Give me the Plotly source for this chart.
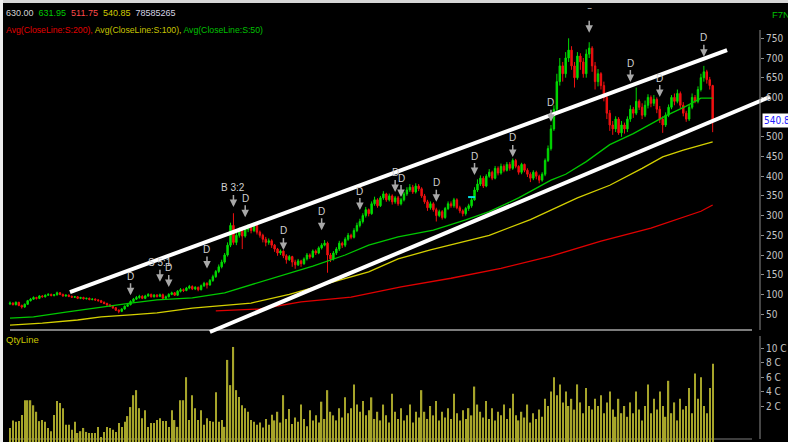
import plotly.graph_objects as go

# ---------------- data ----------------
CLOSE = [
    78, 74, 80, 72, 68, 75, 84, 88, 92, 90,
    96, 94, 98, 100, 97, 99, 104, 100, 96, 98,
    95, 93, 94, 90, 92, 89, 90, 87, 88, 86,
    84, 80, 77, 73, 70, 66, 60, 57, 63, 70,
    74, 82, 88, 92, 95, 90, 96, 100, 94, 98,
    95, 99, 90, 94, 100, 104, 98, 108, 112, 110,
    116, 120, 114, 118, 112, 122, 128, 124, 135, 145,
    158, 170, 182, 200, 225, 275, 232, 250, 262, 248,
    265, 270, 262, 275, 258, 250, 240, 232, 236, 225,
    215, 205, 210, 198, 188, 196, 182, 175, 185, 178,
    190, 200, 195, 210, 205, 218, 225, 230, 200, 190,
    205, 215, 230, 225, 240, 250, 245, 262, 275, 285,
    300, 315, 305, 330, 340, 325, 345, 355, 340, 350,
    335, 345, 330, 340, 355, 365, 372, 360, 375, 368,
    350, 335, 320, 330, 315, 300, 310, 295, 318, 330,
    325, 340, 320, 312, 305, 318, 325, 340, 365, 380,
    395, 375, 400, 410, 395, 420, 408, 425, 415, 430,
    420, 440, 425, 410, 430, 415, 405, 395, 410, 400,
    390, 405, 440, 470, 520, 570, 640, 680, 660, 700,
    720, 680, 650, 705, 690, 660, 710, 725, 680, 640,
    660, 630, 600, 560, 530, 520, 545, 510, 530, 520,
    545, 570, 560, 590, 575, 555, 580, 600, 585, 595,
    570, 545, 530, 555, 575, 600, 590, 610, 580, 560,
    545, 575, 600, 590, 620, 650, 665, 645, 630, 540.85,
]
OPEN = [
    76, 78, 74, 80, 72, 68, 75, 84, 88, 92,
    90, 96, 94, 98, 100, 97, 99, 104, 100, 96,
    98, 95, 93, 94, 90, 92, 89, 90, 87, 88,
    86, 84, 80, 77, 73, 70, 66, 60, 57, 63,
    70, 74, 82, 88, 92, 95, 90, 96, 100, 94,
    98, 95, 99, 90, 94, 100, 104, 98, 108, 112,
    110, 116, 120, 114, 118, 112, 122, 128, 124, 135,
    145, 158, 170, 182, 200, 225, 275, 232, 250, 262,
    248, 265, 270, 262, 275, 258, 250, 240, 232, 236,
    225, 215, 205, 210, 198, 188, 196, 182, 175, 185,
    178, 190, 200, 195, 210, 205, 218, 225, 230, 200,
    190, 205, 215, 230, 225, 240, 250, 245, 262, 275,
    285, 300, 315, 305, 330, 340, 325, 345, 355, 340,
    350, 335, 345, 330, 340, 355, 365, 372, 360, 375,
    368, 350, 335, 320, 330, 315, 300, 310, 295, 318,
    330, 325, 340, 320, 312, 305, 318, 325, 340, 365,
    380, 395, 375, 400, 410, 395, 420, 408, 425, 415,
    430, 420, 440, 425, 410, 430, 415, 405, 395, 410,
    400, 390, 405, 440, 470, 520, 570, 640, 680, 660,
    700, 720, 680, 650, 705, 690, 660, 710, 725, 680,
    640, 660, 630, 600, 560, 530, 520, 545, 510, 530,
    520, 545, 570, 560, 590, 575, 555, 580, 600, 585,
    595, 570, 545, 530, 555, 575, 600, 590, 610, 580,
    560, 545, 575, 600, 590, 620, 650, 665, 645, 630,
]
HIGH = [
    82, 80, 82, 81, 74, 77, 86, 91, 95, 94,
    98, 98, 100, 103, 102, 101, 107, 106, 102, 100,
    100, 97, 96, 96, 94, 94, 92, 92, 90, 90,
    88, 86, 82, 79, 76, 72, 68, 62, 65, 72,
    77, 85, 91, 96, 99, 98, 99, 103, 102, 101,
    101, 102, 102, 97, 103, 107, 106, 111, 116, 115,
    119, 124, 123, 121, 120, 125, 132, 131, 139, 150,
    162, 176, 188, 205, 232, 282, 306, 256, 270, 266,
    270, 278, 274, 282, 278, 262, 254, 246, 242, 240,
    228, 218, 214, 212, 202, 200, 198, 188, 190, 188,
    194, 205, 204, 214, 214, 222, 230, 238, 234, 205,
    210, 220, 236, 234, 245, 256, 254, 268, 282, 292,
    306, 322, 318, 336, 348, 344, 350, 362, 358, 356,
    354, 350, 350, 345, 360, 372, 380, 378, 382, 380,
    372, 355, 340, 336, 334, 320, 315, 314, 322, 336,
    336, 345, 344, 325, 316, 322, 330, 345, 372, 392,
    402, 400, 405, 418, 414, 426, 425, 432, 430, 436,
    436, 445, 444, 428, 434, 432, 420, 410, 415, 414,
    404, 410, 445, 478, 530, 580, 660, 700, 690, 715,
    750, 730, 690, 715, 712, 700, 722, 740, 730, 690,
    672, 664, 640, 608, 568, 540, 552, 550, 540, 536,
    552, 580, 576, 625, 595, 585, 592, 608, 605, 606,
    600, 578, 552, 562, 582, 606, 610, 620, 615, 588,
    566, 582, 610, 606, 628, 660, 680, 670, 652, 631.95,
]
LOW = [
    73, 72, 72, 70, 64, 66, 73, 82, 86, 87,
    88, 92, 92, 96, 95, 95, 97, 98, 94, 94,
    93, 91, 91, 88, 88, 87, 87, 85, 85, 84,
    82, 78, 75, 71, 68, 63, 58, 52, 55, 61,
    68, 72, 80, 86, 89, 88, 88, 94, 92, 92,
    92, 93, 88, 88, 92, 98, 96, 96, 105, 106,
    108, 113, 111, 111, 108, 110, 119, 115, 122, 132,
    142, 154, 166, 178, 196, 220, 226, 225, 244, 215,
    244, 258, 255, 258, 252, 244, 232, 222, 226, 218,
    208, 198, 200, 192, 178, 185, 170, 165, 172, 170,
    175, 186, 190, 192, 200, 202, 214, 222, 155, 182,
    186, 200, 210, 218, 220, 236, 240, 242, 258, 270,
    280, 295, 298, 302, 325, 320, 322, 340, 335, 336,
    328, 330, 325, 326, 336, 350, 360, 355, 356, 362,
    345, 330, 312, 315, 310, 285, 296, 290, 292, 314,
    320, 320, 316, 306, 298, 300, 312, 320, 338, 360,
    375, 370, 372, 396, 390, 392, 402, 404, 410, 412,
    414, 416, 420, 404, 405, 410, 398, 385, 390, 392,
    382, 386, 400, 436, 465, 515, 565, 630, 640, 650,
    690, 670, 625, 645, 670, 650, 650, 700, 665, 620,
    628, 620, 590, 545, 515, 505, 512, 505, 500, 508,
    512, 538, 548, 555, 568, 545, 550, 572, 575, 578,
    560, 535, 510, 525, 550, 570, 580, 585, 572, 552,
    538, 540, 570, 585, 585, 615, 640, 635, 620, 511.75,
]
# volume in crore, read on the lower panel's scale
VOLUME = [
    -1.05, 0.0, -0.2, -0.1, 0.75, 2.8, 2.8, 2.8, 2.1, 1.2,
    -0.1, 0.05, -0.2, -1.05, -1.5, 0.75, 2.7, 2.4, 1.7, -0.6,
    -0.6, -1.3, -0.2, -1.75, -1.5, -1.05, -1.6, -1.75, -1.75, -1.75,
    -0.9, -2.3, -1.6, -0.9, -1.05, -1.3, -1.6, -0.35, -0.9, -0.2,
    0.6, 1.85, 3.5, 4.2, 1.7, 0.3, 1.4, -0.9, -0.35, -0.35,
    0.05, 0.3, -0.1, -0.1, -0.9, 1.4, 0.05, -0.9, 2.8, 2.8,
    6.0, 0.05, 3.5, 1.7, 0.05, 1.4, -0.6, 0.3, -0.1, -0.2,
    3.9, -0.2, 0.05, -0.9, 8.4, 4.9, 10.2, 4.2, 3.25, 2.1,
    1.7, 1.2, 0.05, -0.2, -0.6, -0.3, -1.0, 0.2, -0.6, 0.8,
    0.0, 1.2, -0.3, 3.5, 0.2, 1.6, -0.5, 0.4, -0.2, 2.2,
    0.2, -0.8, 1.4, 0.0, 0.7, -0.3, 2.6, 0.2, 4.2, 1.2,
    0.7, 0.0, 1.7, 0.4, 3.2, 1.0, 1.7, 5.0, 2.2, 1.2,
    2.7, 0.7, 1.4, 3.2, 0.2, 1.2, 0.0, 2.2, 0.7, -0.3,
    3.7, 1.2, 0.2, 1.7, 0.0, 0.7, 2.2, -0.3, 1.2, 0.4,
    4.2, 1.2, 0.2, 2.0, 0.7, 2.7, 0.0, 1.2, 0.4, 1.7,
    0.2, 3.7, 1.0, 0.0, 1.4, 0.2, 1.7, 0.7, 4.7, 2.2,
    1.2, 0.4, 2.7, 0.2, 1.7, 0.0, 1.2, 0.7, 2.2, 0.2,
    1.7, 3.7, 0.7, 0.0, 1.2, 0.4, 2.2, -0.3, 1.0, 0.2,
    1.5, 0.5, 3.0, 2.0, 4.0, 6.0, 3.5, 5.0, 2.5, 4.0,
    2.0, 3.0, 1.5, 5.0, 2.5, 1.0, 4.5, 2.0, 1.5, 3.0,
    2.0, 3.5, 1.0, 2.5, 4.0, 1.5, 0.5, 3.0, 1.0, 2.0,
    0.5, 2.5, 1.0, 4.0, 1.5, 0.0, 2.0, 5.0, 1.0, 3.0,
    1.5, 4.0, 2.0, 0.5, 5.5, 1.0, 2.5, 0.0, 3.0, 1.5,
    2.0, 4.5, 1.0, 6.5, 3.0, 6.0, 2.0, 1.0, 4.5, 7.86,
]
BAR_INDEX = list(range(len(CLOSE)))

# moving averages (bar index, value)
MA50_X = [0, 8, 19, 31, 41, 50, 62, 73, 82, 91, 103, 114, 122, 132, 144, 155, 163, 173, 184, 189, 196, 204, 212, 223, 230, 235, 239]
MA50_Y = [40, 43, 55, 68, 78, 86, 91, 104, 124, 144, 172, 200, 225, 246, 263, 289, 310, 345, 390, 405, 437, 480, 508, 553, 578, 598, 598]
MA100_X = [0, 11, 23, 31, 41, 50, 62, 73, 82, 95, 109, 122, 132, 143, 163, 177, 193, 204, 215, 222, 229, 239]
MA100_Y = [22, 27, 35, 43, 48, 53, 65, 73, 78, 100, 129, 157, 190, 213, 250, 290, 345, 377, 420, 449, 466, 487]
MA200_X = [70, 85, 99, 116, 133, 150, 167, 184, 201, 218, 235, 239]
MA200_Y = [58, 63, 81, 93, 119, 141, 166, 197, 235, 268, 311, 327]

# hand-drawn channel lines (bar index, price)
TREND_UP_X = [20.4, 243.9]
TREND_UP_Y = [106, 720]
TREND_LO_X = [68.0, 258.5]
TREND_LO_Y = [4.6, 601.5]

# corporate-action / dividend markers
EVENT_TEXT = ["D", "S 5:1", "D", "D", "B 3:2", "D", "D", "D", "D", "D",
              "D", "D", "D", "D", "D", "\u203e", "D", "D", "D"]
EVENT_X = [41, 51, 54, 67, 76, 80, 93, 106, 119, 131, 133, 145, 158, 171, 184, 197, 211, 221, 236]
EVENT_Y = [98, 132, 119, 166, 322, 296, 213, 263, 314, 360, 347, 335, 403, 449, 538, 764, 639, 601, 703]

PRICE_TICKS = [50, 100, 150, 200, 250, 300, 350, 400, 450, 500, 600, 650, 700, 750]
VOL_TICKS = [2, 4, 6, 8, 10]
VOL_TICK_TEXT = ["2 C", "4 C", "6 C", "8 C", "10 C"]

HEADER_VALUES = ["630.00", "631.95", "511.75", "540.85", "78585265"]
HEADER_COLORS = ["#d4d4d4", "#00c800", "#ff4a4a", "#d0cc00", "#d4d4e4"]
MA_LABELS = ["Avg(CloseLine:S:200),", "Avg(CloseLine:S:100),", "Avg(CloseLine:S:50)"]
MA_COLORS = ["#e00000", "#c8c400", "#00c000"]
LAST_PRICE = 540.85

# ---------------- layout helpers ----------------
W, H = 788, 442
def px(x):
    return x / W
def py(y):
    return 1 - y / H

VOL_FLOOR = -3.0
FONT = "Liberation Sans"
AXIS_FONT = dict(family="DejaVu Sans Condensed", size=10, color="#c4c4c4")

fig = go.Figure()

fig.add_trace(go.Candlestick(
    x=BAR_INDEX, open=OPEN, high=HIGH, low=LOW, close=CLOSE,
    xaxis="x", yaxis="y", whiskerwidth=0,
    increasing=dict(line=dict(color="#00dc00", width=1), fillcolor="#00dc00"),
    decreasing=dict(line=dict(color="#f01010", width=1), fillcolor="#f01010"),
    hoverinfo="skip",
))
fig.add_trace(go.Scatter(x=MA200_X, y=MA200_Y, mode="lines", line=dict(color="#e00000", width=1.3),
                         xaxis="x", yaxis="y", hoverinfo="skip"))
fig.add_trace(go.Scatter(x=MA100_X, y=MA100_Y, mode="lines", line=dict(color="#d4d000", width=1.3),
                         xaxis="x", yaxis="y", hoverinfo="skip"))
fig.add_trace(go.Scatter(x=MA50_X, y=MA50_Y, mode="lines", line=dict(color="#00c800", width=1.3),
                         xaxis="x", yaxis="y", hoverinfo="skip"))
fig.add_trace(go.Scatter(x=TREND_UP_X, y=TREND_UP_Y, mode="lines", line=dict(color="#ffffff", width=4),
                         xaxis="x", yaxis="y", hoverinfo="skip"))
fig.add_trace(go.Scatter(x=TREND_LO_X, y=TREND_LO_Y, mode="lines", line=dict(color="#ffffff", width=4),
                         xaxis="x", yaxis="y", hoverinfo="skip"))
fig.add_trace(go.Scatter(x=[157], y=[347], mode="markers",
                         marker=dict(symbol="line-ew", size=5, line=dict(color="#00e0e0", width=2)),
                         xaxis="x", yaxis="y", hoverinfo="skip"))

fig.add_trace(go.Bar(
    x=BAR_INDEX, y=[v - VOL_FLOOR for v in VOLUME], base=VOL_FLOOR,
    xaxis="x2", yaxis="y2", width=0.45,
    marker=dict(color="#a6a42a", line=dict(width=0)), hoverinfo="skip",
))

x_dom = [px(8), px(780)]
axis_pos = px(760)
common_y = dict(side="right", anchor="free", position=axis_pos, showgrid=False, zeroline=False,
                showline=False, ticks="outside", ticklen=3, tickcolor="#8c8c8c",
                tickfont=AXIS_FONT, fixedrange=True)

fig.update_layout(
    width=W, height=H, margin=dict(l=0, r=0, t=0, b=0),
    paper_bgcolor="#000000", plot_bgcolor="#000000", showlegend=False,
    xaxis=dict(domain=x_dom, range=[-0.68, 261.9], visible=False, rangeslider=dict(visible=False),
               anchor="y"),
    xaxis2=dict(domain=x_dom, range=[-0.68, 261.9], visible=False, matches="x", anchor="y2"),
    yaxis=dict(domain=[py(334), py(3)], range=[-0.5, 839.6], tickvals=PRICE_TICKS, **common_y),
    yaxis2=dict(domain=[0, py(334)], range=[VOL_FLOOR, 12.0], tickvals=VOL_TICKS,
                ticktext=VOL_TICK_TEXT, **common_y),
)

shapes = [
    dict(type="rect", xref="paper", yref="paper", x0=0, x1=1, y0=py(3), y1=1,
         fillcolor="#d6d6d6", line=dict(width=0), layer="above"),
    dict(type="rect", xref="paper", yref="paper", x0=0, x1=px(3), y0=0, y1=1,
         fillcolor="#eeeeee", line=dict(width=0), layer="above"),
    dict(type="line", xref="paper", yref="paper", x0=px(10), x1=px(752), y0=py(330), y1=py(330),
         line=dict(color="#7c7c7c", width=2), layer="below"),
    dict(type="line", xref="paper", yref="paper", x0=px(10), x1=px(752), y0=py(439), y1=py(439),
         line=dict(color="#7c7c7c", width=1), layer="below"),
    dict(type="line", xref="paper", yref="paper", x0=axis_pos, x1=axis_pos, y0=py(30), y1=py(330),
         line=dict(color="#8c8c8c", width=1)),
    dict(type="line", xref="paper", yref="paper", x0=axis_pos, x1=axis_pos, y0=py(336), y1=py(439),
         line=dict(color="#8c8c8c", width=1)),
]
fig.update_layout(shapes=shapes)

ann = []
row1 = "&nbsp;&nbsp;".join(f"<span style='color:{c}'>{t}</span>" for t, c in zip(HEADER_VALUES, HEADER_COLORS))
ann.append(dict(text=row1, xref="paper", yref="paper", x=px(4), y=py(13), xanchor="left",
                yanchor="middle", showarrow=False, font=dict(family=FONT, size=9, color="#d4d4d4")))
row2 = " ".join(f"<span style='color:{c}'>{t}</span>" for t, c in zip(MA_LABELS, MA_COLORS))
ann.append(dict(text=row2, xref="paper", yref="paper", x=px(4), y=py(30), xanchor="left",
                yanchor="middle", showarrow=False, font=dict(family=FONT, size=8.7, color="#e00000")))
ann.append(dict(text="F7News", xref="paper", yref="paper", x=px(770), y=py(14), xanchor="left",
                yanchor="middle", showarrow=False, font=dict(family=FONT, size=9.5, color="#00c000")))
ann.append(dict(text="QtyLine", xref="paper", yref="paper", x=px(4), y=py(339), xanchor="left",
                yanchor="middle", showarrow=False, font=dict(family=FONT, size=9.5, color="#c8c400")))
ann.append(dict(text="540.85", xref="paper", yref="y", x=px(762), y=LAST_PRICE, xanchor="left",
                yanchor="middle", showarrow=False, bgcolor="#ffffff", borderpad=1,
                font=dict(family="DejaVu Sans Condensed", size=10, color="#2020ff")))
for t, x, y in zip(EVENT_TEXT, EVENT_X, EVENT_Y):
    ann.append(dict(text=t, xref="x", yref="y", x=x, y=y, showarrow=True, ax=0, ay=-19,
                    arrowhead=2, arrowsize=1, arrowwidth=1.5, arrowcolor="#a8a8a8",
                    font=dict(family=FONT, size=10, color="#d0d0d0")))
fig.update_layout(annotations=ann)

fig.write_html("out.html", config={"displayModeBar": False},
               post_script="document.body.style.margin='0';document.body.style.background='#000';")
